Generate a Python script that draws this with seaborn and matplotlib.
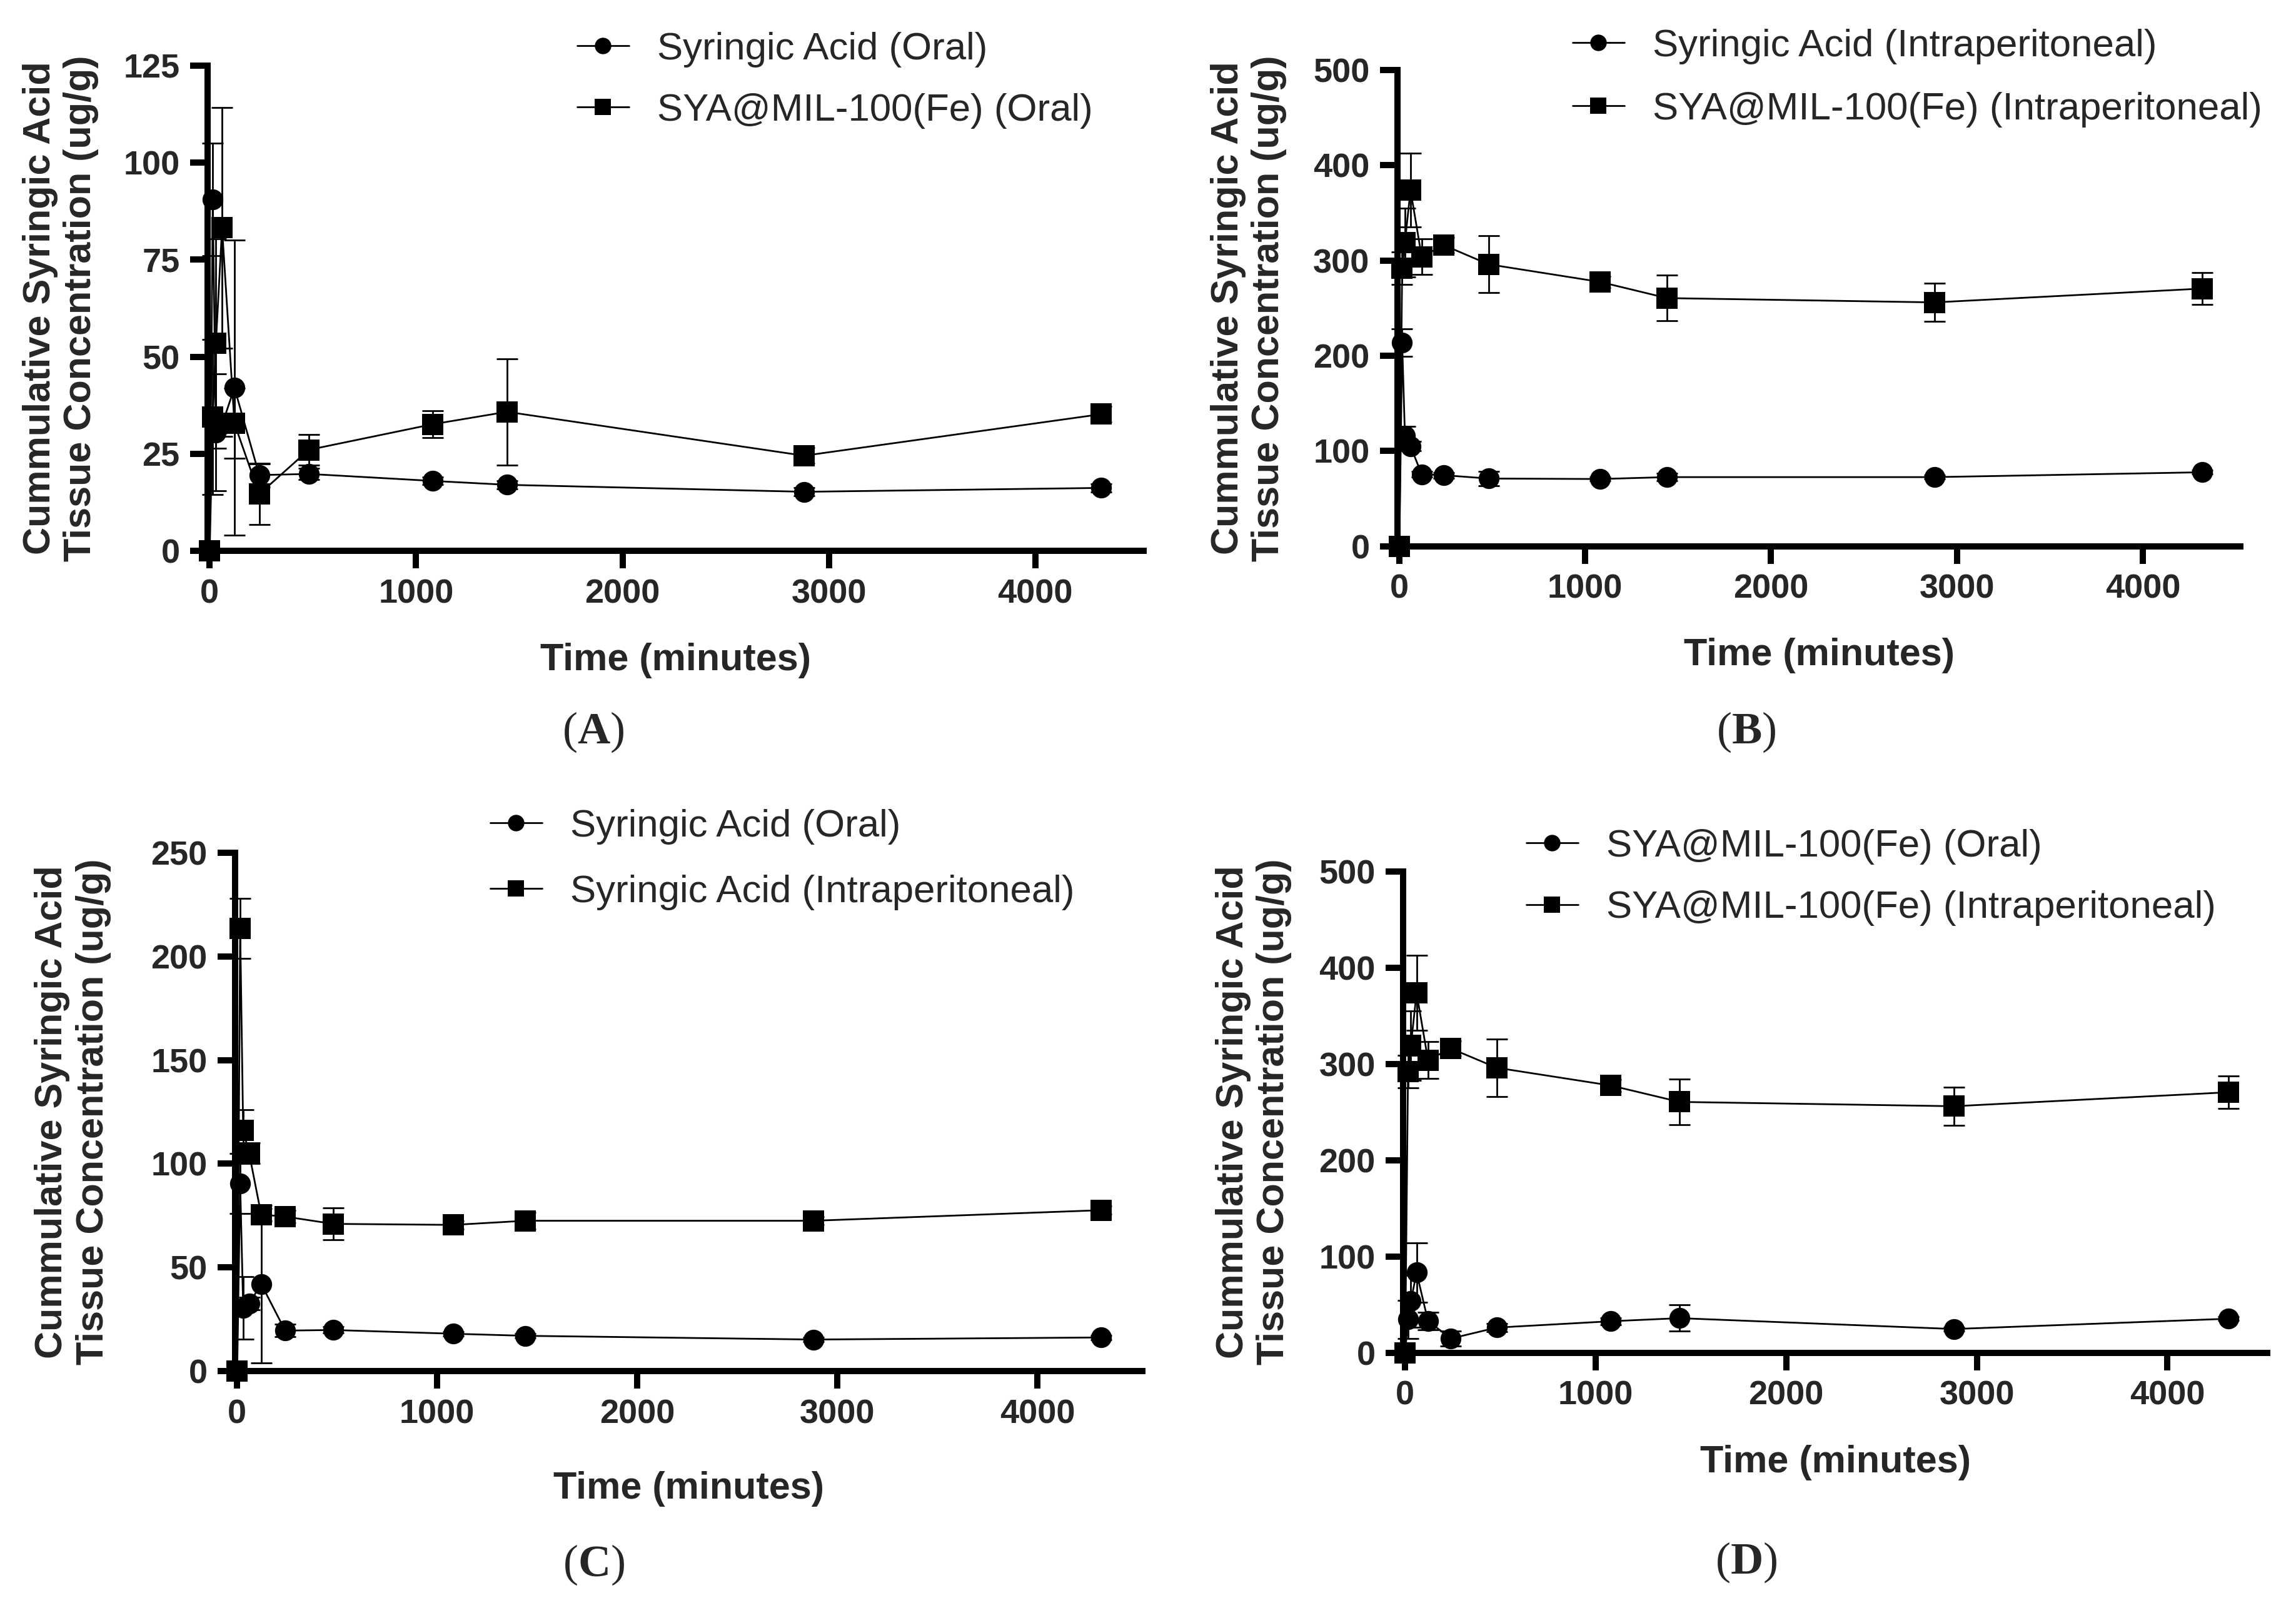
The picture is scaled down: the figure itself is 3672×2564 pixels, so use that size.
import numpy as np
import pandas as pd
import matplotlib
matplotlib.use("Agg")
import matplotlib.pyplot as plt
import seaborn as sns
from matplotlib.lines import Line2D

# ---------------- data ----------------
time_min = [0, 15, 30, 60, 120, 240, 480, 1080, 1440, 2880, 4320]

sa_oral = [0, 90.5, 30.5, 32.5, 42, 19.5, 19.8, 18, 17, 15.2, 16.2]
sa_oral_sd = [0, 14.5, 15, 3, 38, 3, 1.5, 1, 1, 1, 1]

sya_oral = [0, 34.5, 53.4, 83.2, 32.8, 14.6, 26, 32.6, 35.8, 24.5, 35.2]
sya_oral_sd = [0, 20, 27, 31, 9, 7.8, 4, 3.5, 13.7, 2, 2]

sa_ip = [0, 213.5, 116, 105, 75.5, 74.5, 71, 70.5, 72.5, 72.5, 77.6]
sa_ip_sd = [0, 14.5, 10, 5, 3, 3, 7.7, 2, 4, 2, 2]

sya_ip = [0, 292, 319, 374, 304, 316, 296, 277.5, 260.5, 256, 270.5]
sya_ip_sd = [0, 17, 36, 39, 19, 8, 30, 6, 24, 20, 17]

x_ticks = [0, 1000, 2000, 3000, 4000]
y_ticks_a = [0, 25, 50, 75, 100, 125]
y_ticks_b = [0, 100, 200, 300, 400, 500]
y_ticks_c = [0, 50, 100, 150, 200, 250]
y_ticks_d = [0, 100, 200, 300, 400, 500]

lab_sa_oral = "Syringic Acid (Oral)"
lab_sya_oral = "SYA@MIL-100(Fe) (Oral)"
lab_sa_ip = "Syringic Acid (Intraperitoneal)"
lab_sya_ip = "SYA@MIL-100(Fe) (Intraperitoneal)"
panel_letters = ["A", "B", "C", "D"]

x_label = "Time (minutes)"
y_label = "Cummulative Syringic Acid\nTissue Concentration (ug/g)"

# ---------------- style ----------------
sns.set_style("ticks")
plt.rcParams["font.family"] = ["Liberation Sans", "DejaVu Sans"]
plt.rcParams["mathtext.fontset"] = "custom"
plt.rcParams["mathtext.rm"] = "Liberation Serif"
plt.rcParams["mathtext.bf"] = "Liberation Serif:bold"

W, H = 3673, 2564
DPI = 100
fig = plt.figure(figsize=(W / DPI, H / DPI), dpi=DPI)
fig.patch.set_facecolor("white")

panels = [
    dict(rect=[0.0904, 0.6564, 0.4076, 0.3027],
         series=[(lab_sa_oral, sa_oral, sa_oral_sd, "o"),
                 (lab_sya_oral, sya_oral, sya_oral_sd, "s")],
         yticks=y_ticks_a, ylab_x=-0.157, xlab_y=-0.2255,
         leg=(923 / W, 1 - 51 / H), lspace=0.663, letter=(949 / W, 1 - 1171 / H)),
    dict(rect=[0.6085, 0.6593, 0.3670, 0.2970],
         series=[(lab_sa_ip, sa_ip, sa_ip_sd, "o"),
                 (lab_sya_ip, sya_ip, sya_ip_sd, "s")],
         yticks=y_ticks_b, ylab_x=-0.1766, xlab_y=-0.2298,
         leg=(2515 / W, 1 - 46 / H), lspace=0.712, letter=(2793 / W, 1 - 1171 / H)),
    dict(rect=[0.1024, 0.1447, 0.3950, 0.3233],
         series=[(lab_sa_oral, sa_oral, sa_oral_sd, "o"),
                 (lab_sa_ip, sa_ip, sa_ip_sd, "s")],
         yticks=y_ticks_c, ylab_x=-0.179, xlab_y=-0.228,
         leg=(784 / W, 1 - 1294 / H), lspace=0.777, letter=(950 / W, 1 - 2503 / H)),
    dict(rect=[0.6110, 0.1562, 0.3763, 0.3002],
         series=[(lab_sya_oral, sya_oral, sya_oral_sd, "o"),
                 (lab_sya_ip, sya_ip, sya_ip_sd, "s")],
         yticks=y_ticks_d, ylab_x=-0.173, xlab_y=-0.2287,
         leg=(2441 / W, 1 - 1326 / H), lspace=0.67, letter=(2793 / W, 1 - 2499 / H)),
]

LW = 2.0
MS = 24
TICK_FS = 39
LAB_FS = 44
LEG_FS = 44.5

for p, letter in zip(panels, panel_letters):
    ax = fig.add_axes(p["rect"])
    ax.set_facecolor("white")
    handles, labels = [], []
    for name, vals, sd, mk in p["series"]:
        df = pd.DataFrame({"time": time_min, "conc": vals})
        ax.errorbar(df["time"], df["conc"], yerr=sd, fmt="none", ecolor="black",
                    elinewidth=LW, capsize=12, capthick=LW, clip_on=False, zorder=2)
        sns.lineplot(data=df, x="time", y="conc", ax=ax, color="black", lw=LW,
                     marker=mk, markersize=MS, markeredgewidth=0,
                     markerfacecolor="black", estimator=None, sort=False,
                     clip_on=False, zorder=3)
        handles.append(Line2D([0], [0], color="black", lw=LW, marker=mk,
                              markersize=19, markeredgewidth=0))
        labels.append(name)

    ax.set_xlim(-10, 4525)
    ax.set_ylim(0, p["yticks"][-1])
    ax.set_xticks(x_ticks)
    ax.set_yticks(p["yticks"])
    ax.set_xticklabels([str(t) for t in x_ticks], fontsize=TICK_FS, fontweight="bold")
    ax.set_yticklabels([str(t) for t in p["yticks"]], fontsize=TICK_FS, fontweight="bold")
    for s in ["top", "right"]:
        ax.spines[s].set_visible(False)
    for s in ["left", "bottom"]:
        ax.spines[s].set_linewidth(7.2)
        ax.spines[s].set_color("black")
    ax.tick_params(axis="both", direction="out", length=20, width=7.2,
                   color="black", pad=12)

    ax.set_xlabel(x_label, fontsize=LAB_FS, fontweight="bold")
    ax.set_ylabel(y_label, fontsize=LAB_FS, fontweight="bold", linespacing=1.2)
    ax.xaxis.set_label_coords(0.5, p["xlab_y"])
    ax.xaxis.label.set_va("center")
    ax.yaxis.set_label_coords(p["ylab_x"], 0.5)
    ax.yaxis.label.set_va("center")
    ax.yaxis.label.set_ha("center")

    ax.legend(handles, labels, loc="upper left", bbox_to_anchor=p["leg"],
              bbox_transform=fig.transFigure, frameon=False, borderpad=0,
              borderaxespad=0, handlelength=1.34, handletextpad=0.73,
              labelspacing=p["lspace"],
              prop={"family": "Liberation Sans", "size": LEG_FS})

    fig.text(p["letter"][0], p["letter"][1], "($\\mathbf{" + letter + "}$)",
             fontsize=52, family="Liberation Serif", ha="center", va="center")

fig.savefig("out.png", dpi=DPI, facecolor="white")
